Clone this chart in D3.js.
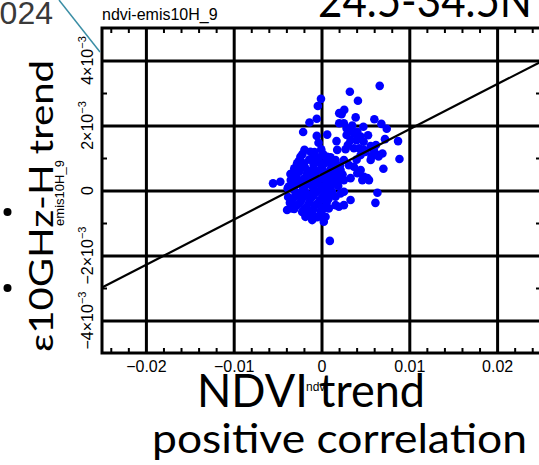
<!DOCTYPE html>
<html>
<head>
<meta charset="utf-8">
<script src="https://cdn.jsdelivr.net/npm/d3@7"></script>
<style>
  body { margin: 0; background: #fff; }
  svg { display: block; }
</style>
</head>
<body>
<svg id="chart" width="539" height="465"></svg>
<script>
// values
var ndvi = [
  0.00663, 0.00323, 0.00415, -0.00006, -0.00042, 0.00259, 0.00229, 0.00389, -0.00054, -0.00137,
  0.00602, 0.00682, 0.00743, -0.00209, 0.00065, -0.00054, 0.00477, 0.00202, 0.00202, 0.00171,
  0.00872, 0.00723, 0.00888, 0.00705, 0.00255, 0.00312, 0.00369, 0.00286, 0.00331, 0.004,
  0.00446, 0.00179, 0.00274, 0.00369, 0.0056, 0.00598, 0.00637, 0.00483, 0.00446, 0.00694,
  -0.00194, -0.00217, -0.00003, 0.00019, -0.00026, 0.00103, -0.00088, -0.00034, 0.00408, 0.00286,
  0.00503, 0.00522, 0.0065,
  -0.00552, -0.00469, -0.00126, 0.00065, -0.00278, -0.00202, -0.00088, 0.00103, 0.0016, -0.00354,
  -0.00259, -0.00163, -0.00317, -0.00374, -0.00392, -0.00335, -0.00183, -0.00106, -0.00011, 0.00046,
  0.00026, 0.00083, 0.0016, 0.00095, 0.00255, 0.00312, 0.00217, 0.00179, 0.00255, 0.00331,
  0.00369, 0.00408, 0.00446, 0.00483, 0.00541, 0.00465, 0.0056, 0.00637, 0.00614, 0.00331,
  0.00255, 0.00198, 0.00217, 0.00255, 0.0016, -0.00385, -0.0024, -0.00278, -0.00335,
  -0.0026, -0.0014, -0.0004, 0.0006, 0.0014,
  -0.0031, -0.0019, -0.0009, 0.0001, 0.0011, 0.0021,
  -0.0029, -0.0017, -0.0007, 0.0003, 0.0013, 0.0024,
  -0.0024, -0.0013, -0.0003, 0.0007, 0.0016,
  -0.0032, -0.0021, -0.0011, 0.0000, 0.0009, 0.0019,
  -0.0027, -0.0016, -0.0006, 0.0004, 0.0012,
  -0.0033, -0.0023, -0.0012, -0.0002, 0.0008,
  -0.0028, -0.0017, -0.0006, 0.0004,
  -0.0036, -0.0001, -0.0011, -0.0022,
  -0.0035, -0.0008, 0.0002, -0.0020,
  -0.0021, -0.0009, 0.0003, 0.0017, -0.0025,
  -0.0013, -0.0002, 0.0008, -0.0033, -0.0020,
  -0.0009, 0.0001, 0.0011, 0.0021, -0.0028,
  -0.0016, -0.0005, 0.0005, 0.0014, -0.0031,
  -0.0019, -0.0009, 0.0002, 0.0010, -0.0030,
  -0.0020, -0.0009, 0.0001, 0.0011, -0.0025,
  -0.0014, -0.0004, 0.0006, -0.0031, -0.0020,
  -0.0009, 0.0001, -0.0015, -0.0005, -0.0038,
  0.0048, 0.0053, 0.0035, 0.0062, 0.0043, 0.0030, 0.0057, 0.0040
];
var emis = [
  0.00322, 0.00304, 0.00276, 0.00282, 0.0026, 0.00248, 0.00235, 0.00225, 0.00221, 0.00209,
  0.00219, 0.00205, 0.0019, 0.0018, 0.00172, 0.00168, 0.00196, 0.00238, 0.00207, 0.00152,
  0.00152, 0.00158, 0.00097, 0.00067, 0.00207, 0.00188, 0.00176, 0.00171, 0.00155, 0.00155,
  0.00166, 0.00125, 0.00127, 0.0013, 0.00137, 0.00122, 0.00109, 0.00125, 0.00109, 0.00114,
  0.00125, 0.00112, 0.00127, 0.00112, 0.00102, 0.00102, 0.00099, 0.00147, 0.00181, 0.00191,
  0.00119, 0.00038, 0.00105,
  0.00022, 0.00027, 0.00119, 0.00104, 0.00084, 0.00084, 0.00089, 0.00084, 0.00094, 0.00051,
  0.00058, 0.00053, 0.00027, 0.00012, -0.0006, -0.00055, -0.00081, -0.00091, -0.00065, -0.00081,
  -0.00096, -0.00055, -0.00045, -0.00155, 0.00094, 0.00078, 0.00063, 0.00042, 0.00032, 0.00038,
  0.00073, 0.00053, 0.00063, 0.00042, 0.00032, 0.00032, 0.00094, -0.00007, -0.00038, -0.00029,
  -0.00045, -0.0005, -0.00009, -0.00004, -0.00019, 0.00007, 0.00104, 0.00073, 0.00053,
  0.00091, 0.00095, 0.00088, 0.00092, 0.00081,
  0.00068, 0.00072, 0.00066, 0.00074, 0.00069, 0.00077,
  0.00047, 0.00044, 0.00052, 0.00046, 0.00055, 0.00049,
  0.00031, 0.00028, 0.00034, 0.00025, 0.00029,
  0.00013, 0.00009, 0.00015, 0.00011, 0.00006, 0.00014,
  -0.00008, -0.00012, -0.00005, -0.00011, -0.00003,
  -0.00027, -0.00031, -0.00024, -0.0003, -0.00026,
  -0.00046, -0.0005, -0.00044, -0.00049,
  -0.00038, -0.00078, -0.00068, -0.00066,
  0.00032, 0.00118, 0.00058, 0.00022,
  0.00082, 0.00079, 0.00083, 0.00062, 0.00059,
  0.00061, 0.00063, 0.00057, 0.00039, 0.00037,
  0.00039, 0.00036, 0.00038, 0.00035, 0.0002,
  0.00019, 0.00021, 0.00017, 0.00021, 0.00001,
  -0.00002, 0.00002, -0.00001, 0.00003, -0.00017,
  -0.00019, -0.00016, -0.0002, -0.00014, -0.00038,
  -0.00037, -0.00039, -0.00036, -0.00057, -0.00058,
  -0.00057, -0.00059, -0.00072, -0.00082, -0.0002,
  0.0015, 0.0017, 0.002, 0.0014, 0.0013, 0.0014, 0.00105, 0.00095
];

// fitted line
var fitIntercept = 0.00049;
var fitSlope = 0.139;

var xTicks = [-0.02, -0.01, 0, 0.01, 0.02];
var xTickLabels = ["\u22120.02", "\u22120.01", "0", "0.01", "0.02"];
var yTicks = [-0.004, -0.002, 0, 0.002, 0.004];
var yTickMantissa = ["\u22124", "\u22122", "0", "2", "4"];
var xMinor = [-0.024, -0.022, -0.018, -0.016, -0.014, -0.012, -0.008, -0.006, -0.004, -0.002,
  0.002, 0.004, 0.006, 0.008, 0.012, 0.014, 0.016, 0.018, 0.022, 0.024];
var yMinor = [-0.003, -0.001, 0.001, 0.003];

var svg = d3.select("#chart");
var pLeft = 102, pRight = 541, pTop = 28, pBottom = 353;

var x = d3.scaleLinear().domain([-0.025, 0.025]).range([pLeft, pRight]);
var y = d3.scaleLinear().domain([-0.005, 0.005]).range([pBottom, pTop]);

var plotFont = "'Liberation Sans', Arial, sans-serif";
var slideFont = "Lato, 'Open Sans', sans-serif";

//grid lines
svg.append("g")
  .attr("transform", "translate(0," + pBottom + ")")
  .call(d3.axisBottom(x).tickValues(xTicks).tickSize(-(pBottom - pTop)).tickFormat(""))
  .call(g => g.select(".domain").remove())
  .call(g => g.selectAll("line").attr("stroke", "#000").attr("stroke-width", 3));
svg.append("g")
  .attr("transform", "translate(" + pLeft + ",0)")
  .call(d3.axisLeft(y).tickValues(yTicks).tickSize(-(pRight - pLeft)).tickFormat(""))
  .call(g => g.select(".domain").remove())
  .call(g => g.selectAll("line").attr("stroke", "#000").attr("stroke-width", 3));

//minor ticks, inward on all sides
svg.append("g")
  .attr("transform", "translate(0," + pTop + ")")
  .call(d3.axisTop(x).tickValues(xMinor).tickSize(-5).tickFormat(""))
  .call(g => g.select(".domain").remove())
  .call(g => g.selectAll("line").attr("stroke-width", 2));
svg.append("g")
  .attr("transform", "translate(0," + pBottom + ")")
  .call(d3.axisBottom(x).tickValues(xMinor).tickSize(-5).tickFormat(""))
  .call(g => g.select(".domain").remove())
  .call(g => g.selectAll("line").attr("stroke-width", 2));
svg.append("g")
  .attr("transform", "translate(" + pLeft + ",0)")
  .call(d3.axisLeft(y).tickValues(yMinor).tickSize(-5).tickFormat(""))
  .call(g => g.select(".domain").remove())
  .call(g => g.selectAll("line").attr("stroke-width", 2));
svg.append("g")
  .attr("transform", "translate(" + pRight + ",0)")
  .call(d3.axisRight(y).tickValues(yMinor).tickSize(-5).tickFormat(""))
  .call(g => g.select(".domain").remove())
  .call(g => g.selectAll("line").attr("stroke-width", 2));

//x tick labels
svg.append("g")
  .attr("transform", "translate(0," + pBottom + ")")
  .call(d3.axisBottom(x).tickValues(xTicks).tickSize(0).tickPadding(8)
    .tickFormat((d, i) => xTickLabels[i]))
  .call(g => g.select(".domain").remove())
  .call(g => g.selectAll("text").attr("font-family", plotFont).attr("font-size", 16).attr("fill", "#000"));

//y tick labels, rotated
var yl = svg.append("g").selectAll("text")
  .data(yTicks)
  .enter()
  .append("text")
  .attr("transform", d => "translate(93," + y(d) + ") rotate(-90)")
  .attr("text-anchor", "middle")
  .attr("font-family", plotFont)
  .attr("font-size", 16);
yl.append("tspan").text((d, i) => d === 0 ? "0" : yTickMantissa[i] + "\u00d710");
yl.filter(d => d !== 0).append("tspan")
  .attr("dy", -7).attr("font-size", 11).text("\u22123");

//points
svg.append("g").selectAll("circle")
  .data(ndvi)
  .enter()
  .append("circle")
  .attr("cx", d => x(d))
  .attr("cy", (d, i) => y(emis[i]))
  .attr("r", 4.3)
  .attr("fill", "#0000ff");

//regression line
svg.append("line")
  .attr("x1", x(-0.025)).attr("y1", y(fitIntercept + fitSlope * -0.025))
  .attr("x2", x(0.025)).attr("y2", y(fitIntercept + fitSlope * 0.025))
  .attr("stroke", "#000").attr("stroke-width", 2.2);

//box
svg.append("rect")
  .attr("x", pLeft).attr("y", pTop)
  .attr("width", pRight - pLeft).attr("height", pBottom - pTop)
  .attr("fill", "none").attr("stroke", "#000").attr("stroke-width", 3);

//plot titles
svg.append("text").attr("x", pLeft).attr("y", 20)
  .attr("font-family", plotFont).attr("font-size", 16)
  .text("ndvi-emis10H_9");
svg.append("text").attr("x", 317).attr("y", 391).attr("text-anchor", "middle")
  .attr("font-family", plotFont).attr("font-size", 12)
  .text("ndvi");

//slide overlay text
svg.append("text").attr("x", 318).attr("y", 17)
  .attr("font-family", slideFont).attr("font-size", 46)
  .attr("textLength", 214).attr("lengthAdjust", "spacingAndGlyphs")
  .text("24.5-34.5N");
svg.append("text").attr("x", 53).attr("y", 24).attr("text-anchor", "end")
  .attr("font-family", plotFont).attr("font-size", 32).attr("fill", "#3a3a3a")
  .text("2024");
svg.append("line")
  .attr("x1", 59).attr("y1", 0).attr("x2", 100).attr("y2", 52)
  .attr("stroke", "#3b8ea5").attr("stroke-width", 1.5);
svg.append("text")
  .attr("transform", "translate(53,352) rotate(-90)")
  .attr("font-family", slideFont).attr("font-size", 33)
  .attr("textLength", 292).attr("lengthAdjust", "spacingAndGlyphs")
  .text("\u03b510GHz-H trend");
svg.append("text")
  .attr("transform", "translate(64,193) rotate(-90)").attr("text-anchor", "middle")
  .attr("font-family", plotFont).attr("font-size", 13)
  .text("emis10H_9");
svg.append("text").attr("x", 197).attr("y", 407)
  .attr("font-family", slideFont).attr("font-size", 47)
  .attr("textLength", 228).attr("lengthAdjust", "spacingAndGlyphs")
  .text("NDVI trend");
svg.append("text").attr("x", 152).attr("y", 453)
  .attr("font-family", slideFont).attr("font-size", 40)
  .attr("textLength", 375).attr("lengthAdjust", "spacingAndGlyphs")
  .text("positive correlation");
svg.selectAll(".dot")
  .data([212, 288])
  .enter()
  .append("circle")
  .attr("cx", 7.5).attr("cy", d => d).attr("r", 4)
  .attr("fill", "#000");
</script>
</body>
</html>
